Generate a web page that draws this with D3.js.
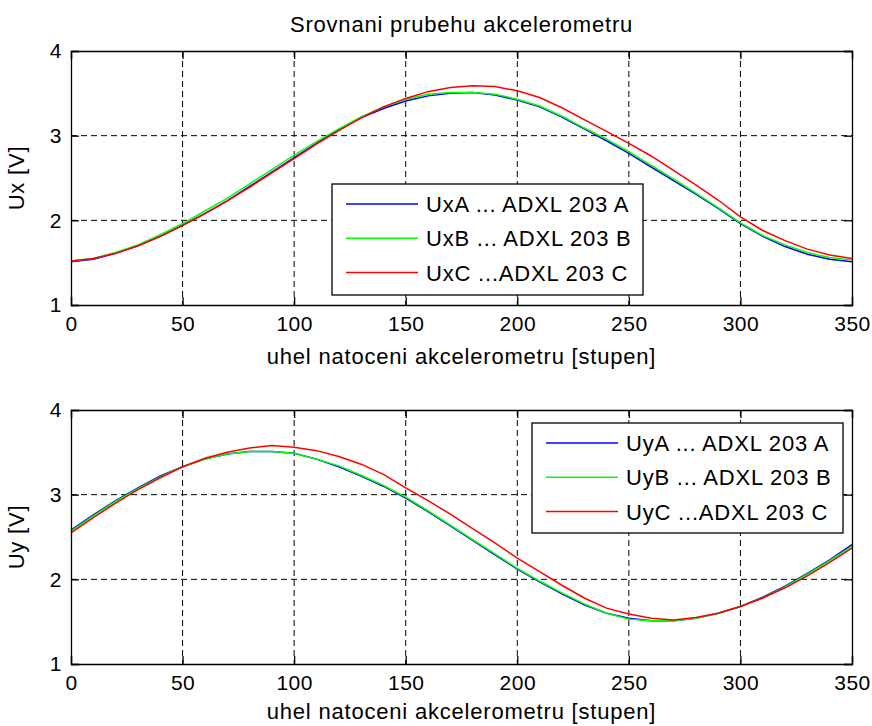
<!DOCTYPE html>
<html><head><meta charset="utf-8">
<script src="https://cdn.jsdelivr.net/npm/d3@7"></script>
<style>body{margin:0;background:#fff}text{font-family:"Liberation Sans",Arial,sans-serif;fill:#000}</style>
</head><body><svg id="c" width="872" height="726"></svg>
<script>
const angles = d3.range(0, 351, 10);
const xTicks = [0, 50, 100, 150, 200, 250, 300, 350];
const yTicks = [1, 2, 3, 4];
const title = "Srovnani prubehu akcelerometru";
const xLabel = "uhel natoceni akcelerometru [stupen]";

const uxA = [1.51,1.54,1.61,1.70,1.81,1.94,2.08,2.23,2.40,2.57,2.74,2.91,3.07,3.21,3.32,3.41,3.47,3.50,3.51,3.48,3.42,3.34,3.22,3.08,2.94,2.79,2.63,2.47,2.31,2.14,1.96,1.81,1.69,1.60,1.54,1.51];
const uxB = [1.52,1.55,1.62,1.71,1.83,1.96,2.11,2.26,2.43,2.60,2.77,2.93,3.08,3.22,3.34,3.43,3.49,3.51,3.51,3.49,3.43,3.35,3.23,3.09,2.96,2.81,2.65,2.49,2.32,2.15,1.97,1.82,1.71,1.62,1.56,1.53];
const uxC = [1.52,1.55,1.61,1.70,1.81,1.94,2.08,2.23,2.39,2.56,2.73,2.90,3.06,3.21,3.34,3.44,3.52,3.57,3.59,3.58,3.53,3.45,3.33,3.19,3.05,2.91,2.76,2.59,2.42,2.24,2.04,1.88,1.76,1.66,1.59,1.55];

const uyA = [2.58,2.76,2.93,3.08,3.22,3.33,3.42,3.48,3.51,3.51,3.49,3.42,3.33,3.22,3.10,2.96,2.80,2.63,2.46,2.29,2.12,1.97,1.83,1.70,1.60,1.54,1.51,1.51,1.54,1.60,1.68,1.79,1.92,2.07,2.23,2.41];
const uyB = [2.57,2.75,2.92,3.07,3.21,3.33,3.42,3.48,3.51,3.51,3.49,3.42,3.34,3.23,3.11,2.97,2.81,2.64,2.47,2.30,2.13,1.98,1.84,1.71,1.60,1.53,1.51,1.51,1.54,1.60,1.68,1.78,1.91,2.06,2.22,2.39];
const uyC = [2.55,2.73,2.90,3.06,3.20,3.33,3.43,3.50,3.55,3.58,3.56,3.52,3.45,3.36,3.24,3.08,2.93,2.77,2.60,2.43,2.25,2.09,1.93,1.78,1.66,1.59,1.54,1.52,1.55,1.60,1.68,1.78,1.90,2.04,2.20,2.37];

const colors = ["#0000ff", "#00ff00", "#ff0000"];
const topNames = ["UxA ... ADXL 203 A", "UxB ... ADXL 203 B", "UxC ...ADXL 203 C"];
const botNames = ["UyA ... ADXL 203 A", "UyB ... ADXL 203 B", "UyC ...ADXL 203 C"];

const svg = d3.select("#c");
const L = 71, R = 852;
const FS = 22, LS = 0.8;

svg.append("text").attr("x", (L + R) / 2).attr("y", 32).attr("text-anchor", "middle")
  .attr("font-size", FS).attr("letter-spacing", LS).text(title);

function panel(top, bottom, series, names, yName, legBox, labelOff) {
  const x = d3.scaleLinear().domain([0, 350]).range([L, R]);
  const y = d3.scaleLinear().domain([1, 4]).range([bottom, top]);
  const g = svg.append("g");
  g.selectAll(".gx").data(xTicks.slice(1, -1)).enter().append("line")
    .attr("x1", d => x(d)).attr("x2", d => x(d)).attr("y1", top).attr("y2", bottom)
    .attr("stroke", "#000").attr("stroke-dasharray", "6,4").attr("stroke-width", 1);
  g.selectAll(".gy").data(yTicks.slice(1, -1)).enter().append("line")
    .attr("y1", d => y(d)).attr("y2", d => y(d)).attr("x1", L).attr("x2", R)
    .attr("stroke", "#000").attr("stroke-dasharray", "6,4").attr("stroke-width", 1);
  series.forEach((s, i) => {
    g.append("path").datum(s.map((v, k) => [angles[k], v]))
      .attr("fill", "none").attr("stroke", colors[i]).attr("stroke-width", 1.5)
      .attr("d", d3.line().x(d => x(d[0])).y(d => y(d[1])));
  });
  const axB = d3.axisBottom(x).tickValues(xTicks).tickSize(-8).tickPadding(11).tickFormat(d3.format("d"));
  const axT = d3.axisTop(x).tickValues(xTicks).tickSize(-8).tickFormat("");
  const axL = d3.axisLeft(y).tickValues(yTicks).tickSize(-8).tickPadding(9).tickFormat(d3.format("d"));
  const axR = d3.axisRight(y).tickValues(yTicks).tickSize(-8).tickFormat("");
  [[axB, `translate(0,${bottom})`], [axT, `translate(0,${top})`], [axL, `translate(${L},0)`], [axR, `translate(${R},0)`]].forEach(([a, t]) => {
    const ag = g.append("g").attr("transform", t).call(a);
    ag.select(".domain").attr("stroke", "#000").attr("stroke-width", 1.3);
    ag.selectAll(".tick line").attr("stroke", "#000").attr("stroke-width", 1.3);
    ag.selectAll("text").attr("font-size", 21).attr("letter-spacing", 0.5)
      .attr("font-family", "Liberation Sans, Arial, sans-serif").attr("fill", "#000");
  });
  svg.append("text").attr("x", (L + R) / 2).attr("y", bottom + labelOff).attr("text-anchor", "middle")
    .attr("font-size", FS).attr("letter-spacing", LS).text(xLabel);
  svg.append("text").attr("transform", `translate(24,${(top + bottom) / 2}) rotate(-90)`)
    .attr("text-anchor", "middle").attr("font-size", FS).attr("letter-spacing", LS).text(yName);
  const lg = svg.append("g");
  lg.append("rect").attr("x", legBox[0]).attr("y", legBox[1]).attr("width", legBox[2]).attr("height", legBox[3])
    .attr("fill", "#fff").attr("stroke", "#000").attr("stroke-width", 1.3);
  names.forEach((n, i) => {
    const yy = legBox[1] + 20 + i * 34.3;
    lg.append("line").attr("x1", legBox[0] + 14).attr("x2", legBox[0] + 86).attr("y1", yy).attr("y2", yy)
      .attr("stroke", colors[i]).attr("stroke-width", 1.5);
    lg.append("text").attr("x", legBox[0] + 94).attr("y", yy + 8).attr("font-size", FS)
      .attr("letter-spacing", LS).text(n);
  });
}

panel(51, 305, [uxA, uxB, uxC], topNames, "Ux [V]", [332, 184, 311, 111], 59);
panel(410, 664, [uyA, uyB, uyC], botNames, "Uy [V]", [532, 423, 311, 110], 55);
</script></body></html>
